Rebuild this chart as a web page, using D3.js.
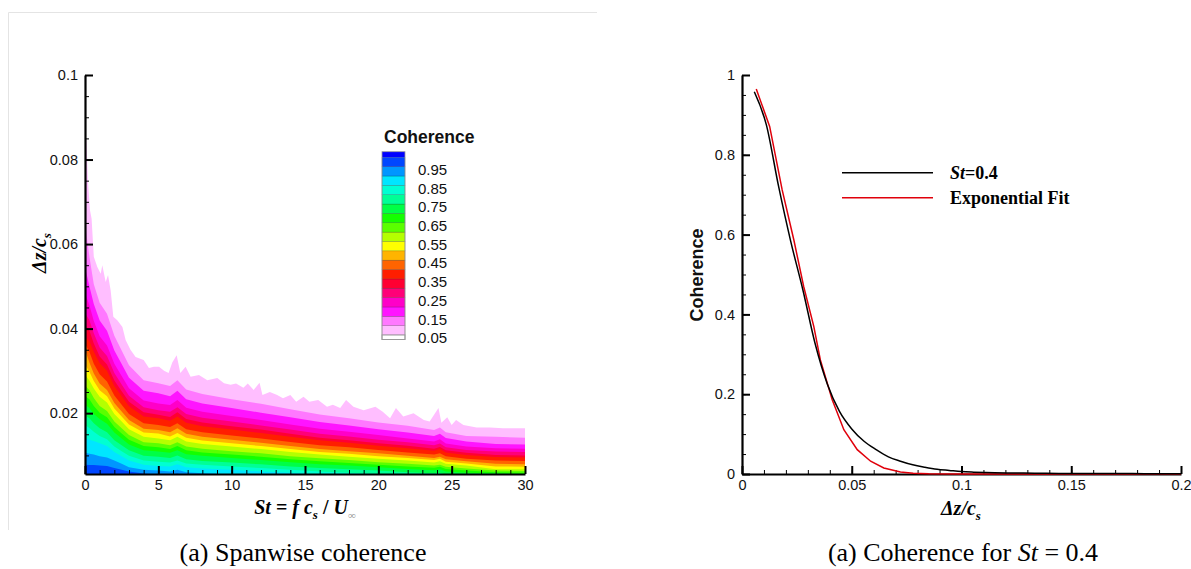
<!DOCTYPE html>
<html>
<head>
<meta charset="utf-8">
<script src="https://cdn.jsdelivr.net/npm/d3@7"></script>
<style>
body { margin: 0; background: #fff; }
svg text { font-family: "Liberation Sans", Arial, sans-serif; }
.serif { font-family: "Liberation Serif", "Times New Roman", serif !important; }
</style>
</head>
<body>
<svg id="chart" width="1191" height="569"></svg>
<script>
// ---- contour levels and colours (coherence) ----
var levels = [0.05, 0.10, 0.15, 0.20, 0.25, 0.30, 0.35, 0.40, 0.45, 0.50,
              0.55, 0.60, 0.65, 0.70, 0.75, 0.80, 0.85, 0.90, 0.95, 1.00];
// colour of the band just above each level (0.05-0.10 ... 0.95-1.0)
var bandColors = ["#ffbeff", "#ff78ff", "#ff14ff", "#ff00c8", "#ff0078", "#ff0032",
                  "#ff1e00", "#ff6400", "#ffb400", "#ffff00", "#b4ff00", "#5aff00",
                  "#14ff00", "#00ff46", "#00ff96", "#00ffd2", "#00e6ff", "#0096ff", "#0046ff"];
var capColor = "#0000ff";
var legendLabels = [0.05, 0.15, 0.25, 0.35, 0.45, 0.55, 0.65, 0.75, 0.85, 0.95];

// ---- outer contour (coherence = 0.05), Δz/c_s vs St ----
var outerSt = [0, 0.1, 0.2, 0.34, 0.45, 0.6, 0.84, 1.07, 1.18, 1.41, 1.57, 1.75, 1.93, 2.2, 2.55,
               2.77, 3.1, 3.45, 4.0, 4.36, 4.7, 5.05, 5.39, 5.7, 5.95, 6.25, 6.5, 6.86, 7.2, 7.77,
               8.34, 9.02, 9.48, 9.93, 10.3, 10.8, 11.1, 11.5, 11.9, 12.1, 12.6, 13.1, 13.5, 14.0,
               14.4, 14.9, 15.3, 15.9, 16.5, 16.9, 17.4, 17.8, 18.3, 19.0, 19.8, 20.3, 20.8, 21.2,
               21.7, 22.4, 23.1, 23.5, 24.1, 24.3, 24.7, 25.0, 25.3, 25.8, 26.7, 27.6, 28.5, 29.4, 30];
var outerDz = [0.087, 0.084, 0.075, 0.068, 0.066, 0.057, 0.0546, 0.053, 0.055, 0.051, 0.0527, 0.049, 0.0428, 0.042, 0.0404,
               0.0373, 0.035, 0.0333, 0.0326, 0.0307, 0.031, 0.031, 0.030, 0.0295, 0.032, 0.0337, 0.0295, 0.031, 0.0286, 0.029,
               0.0278, 0.0283, 0.0271, 0.0267, 0.027, 0.026, 0.027, 0.0255, 0.0272, 0.0243, 0.025, 0.0243, 0.0235, 0.0243,
               0.0227, 0.0239, 0.0227, 0.0231, 0.0215, 0.022, 0.0212, 0.0231, 0.0215, 0.0207, 0.0215, 0.0203, 0.0188, 0.0212,
               0.0192, 0.020, 0.0184, 0.018, 0.0212, 0.0177, 0.019, 0.0172, 0.0184, 0.0172, 0.0166, 0.0166, 0.0164, 0.0164, 0.0164];

// ---- inner contours: one row per St column, levels 0.10 ... 0.95 ----
var innerSt = [0, 0.3, 0.6, 1, 1.5, 2, 2.5, 3, 4, 5, 5.8, 6.3, 6.9, 8, 10, 12, 14, 16, 18, 20, 22, 23.8, 24.2, 24.6, 26, 28, 30];
var innerDz = [
  [0.065, 0.0546, 0.0484, 0.0437, 0.041, 0.038, 0.0365, 0.035, 0.0315, 0.029, 0.0265, 0.024, 0.022, 0.0195, 0.0172, 0.0140, 0.0106, 0.0078],
  [0.057, 0.050, 0.0455, 0.042, 0.0395, 0.037, 0.0345, 0.032, 0.0298, 0.0277, 0.0255, 0.0233, 0.0212, 0.0188, 0.0165, 0.0137, 0.0104, 0.0077],
  [0.0505, 0.0458, 0.0418, 0.0389, 0.0365, 0.0345, 0.0317, 0.0294, 0.0276, 0.0258, 0.0236, 0.0217, 0.0198, 0.0176, 0.0156, 0.0134, 0.0102, 0.0077],
  [0.0461, 0.0419, 0.0382, 0.0355, 0.0334, 0.0318, 0.0292, 0.0270, 0.0254, 0.0239, 0.0217, 0.0201, 0.0186, 0.0164, 0.0146, 0.0129, 0.0098, 0.0076],
  [0.0435, 0.0395, 0.0360, 0.0335, 0.0315, 0.0300, 0.0275, 0.0255, 0.0240, 0.0225, 0.0205, 0.0190, 0.0175, 0.0155, 0.0138, 0.0122, 0.0095, 0.0075],
  [0.0383, 0.0348, 0.0317, 0.0295, 0.0277, 0.0264, 0.0242, 0.0224, 0.0211, 0.0198, 0.0180, 0.0167, 0.0154, 0.0136, 0.0121, 0.0108, 0.0088, 0.0070],
  [0.0348, 0.0316, 0.0288, 0.0268, 0.0252, 0.0240, 0.0220, 0.0204, 0.0192, 0.0180, 0.0164, 0.0152, 0.0140, 0.0124, 0.0110, 0.0098, 0.0080, 0.0066],
  [0.0313, 0.0284, 0.0259, 0.0241, 0.0227, 0.0216, 0.0198, 0.0184, 0.0173, 0.0162, 0.0148, 0.0137, 0.0126, 0.0112, 0.0099, 0.0088, 0.0072, 0.0062],
  [0.0278, 0.0253, 0.0230, 0.0214, 0.0202, 0.0192, 0.0176, 0.0163, 0.0154, 0.0144, 0.0131, 0.0122, 0.0112, 0.0099, 0.0088, 0.0078, 0.0066, 0.0057],
  [0.0271, 0.0247, 0.0223, 0.0207, 0.0196, 0.0188, 0.0172, 0.0160, 0.0152, 0.0140, 0.0129, 0.0119, 0.0109, 0.0097, 0.0085, 0.0075, 0.0064, 0.0055],
  [0.0264, 0.0240, 0.0219, 0.0203, 0.0191, 0.0182, 0.0167, 0.0155, 0.0145, 0.0136, 0.0124, 0.0115, 0.0106, 0.0094, 0.0083, 0.0074, 0.0062, 0.0054],
  [0.0278, 0.0253, 0.0231, 0.0214, 0.0202, 0.0192, 0.0176, 0.0164, 0.0153, 0.0144, 0.0131, 0.0122, 0.0112, 0.0100, 0.0088, 0.0079, 0.0066, 0.0057],
  [0.0256, 0.0233, 0.0213, 0.0198, 0.0186, 0.0177, 0.0162, 0.0151, 0.0142, 0.0133, 0.0121, 0.0112, 0.0103, 0.0091, 0.0081, 0.0072, 0.0060, 0.0052],
  [0.0245, 0.0223, 0.0203, 0.0189, 0.0178, 0.0169, 0.0155, 0.0144, 0.0135, 0.0127, 0.0116, 0.0107, 0.0099, 0.0087, 0.0078, 0.0069, 0.0058, 0.0050],
  [0.0233, 0.0212, 0.0193, 0.0180, 0.0169, 0.0161, 0.0147, 0.0137, 0.0129, 0.0121, 0.0110, 0.0102, 0.0094, 0.0083, 0.0074, 0.0066, 0.0055, 0.0048],
  [0.0222, 0.0201, 0.0184, 0.0171, 0.0161, 0.0153, 0.0140, 0.0130, 0.0122, 0.0115, 0.0105, 0.0097, 0.0089, 0.0079, 0.0070, 0.0062, 0.0052, 0.0046],
  [0.0209, 0.0190, 0.0173, 0.0161, 0.0151, 0.0144, 0.0132, 0.0122, 0.0115, 0.0108, 0.0098, 0.0091, 0.0084, 0.0074, 0.0066, 0.0059, 0.0050, 0.0044],
  [0.0197, 0.0179, 0.0163, 0.0151, 0.0142, 0.0136, 0.0124, 0.0115, 0.0108, 0.0102, 0.0093, 0.0086, 0.0079, 0.0070, 0.0062, 0.0055, 0.0047, 0.0041],
  [0.0188, 0.0171, 0.0156, 0.0145, 0.0136, 0.0130, 0.0119, 0.0110, 0.0104, 0.0097, 0.0089, 0.0082, 0.0076, 0.0067, 0.0059, 0.0053, 0.0045, 0.0040],
  [0.0178, 0.0162, 0.0148, 0.0137, 0.0129, 0.0123, 0.0113, 0.0105, 0.0098, 0.0092, 0.0084, 0.0078, 0.0072, 0.0064, 0.0056, 0.0050, 0.0043, 0.0038],
  [0.0170, 0.0154, 0.0140, 0.0131, 0.0123, 0.0117, 0.0107, 0.0099, 0.0094, 0.0088, 0.0080, 0.0074, 0.0068, 0.0060, 0.0054, 0.0048, 0.0041, 0.0036],
  [0.0160, 0.0146, 0.0133, 0.0124, 0.0116, 0.0111, 0.0102, 0.0094, 0.0089, 0.0083, 0.0076, 0.0071, 0.0065, 0.0058, 0.0051, 0.0046, 0.0040, 0.0035],
  [0.0166, 0.0151, 0.0138, 0.0128, 0.0120, 0.0115, 0.0105, 0.0097, 0.0092, 0.0086, 0.0078, 0.0073, 0.0067, 0.0059, 0.0052, 0.0047, 0.0041, 0.0035],
  [0.0155, 0.0141, 0.0128, 0.0119, 0.0112, 0.0107, 0.0098, 0.0091, 0.0085, 0.0080, 0.0073, 0.0068, 0.0062, 0.0055, 0.0049, 0.0044, 0.0038, 0.0033],
  [0.0146, 0.0133, 0.0121, 0.0113, 0.0106, 0.0101, 0.0092, 0.0086, 0.0081, 0.0076, 0.0069, 0.0064, 0.0059, 0.0052, 0.0046, 0.0041, 0.0035, 0.0030],
  [0.0144, 0.0127, 0.0117, 0.0109, 0.0101, 0.0096, 0.0088, 0.0080, 0.0074, 0.0067, 0.0064, 0.0060, 0.0057, 0.0051, 0.0045, 0.0040, 0.0034, 0.0029],
  [0.0142, 0.0126, 0.0116, 0.0108, 0.0100, 0.0095, 0.0087, 0.0079, 0.0073, 0.0067, 0.0063, 0.0059, 0.0056, 0.0050, 0.0044, 0.0039, 0.0033, 0.0028]
];

// ---- right panel: coherence at St = 0.4 ----
var dzData = [0.0056, 0.0111, 0.0167, 0.0222, 0.0278, 0.0333, 0.0389, 0.0444, 0.05, 0.0556, 0.0611, 0.0667,
              0.0722, 0.0778, 0.0833, 0.0889, 0.0944, 0.1, 0.1056, 0.1111, 0.1222, 0.1333, 0.1444, 0.1556,
              0.1667, 0.1778, 0.1889, 0.2];
var cohData = [0.958, 0.875, 0.72, 0.583, 0.46, 0.327, 0.225, 0.157, 0.113, 0.082, 0.061, 0.043,
               0.032, 0.023, 0.017, 0.012, 0.009, 0.006, 0.0045, 0.0035, 0.0025, 0.002, 0.0015, 0.0012,
               0.001, 0.001, 0.0008, 0.0008];
var dzFit = [0.0065, 0.0126, 0.0183, 0.0236, 0.0281, 0.0327, 0.0357, 0.0411, 0.0464, 0.0525, 0.0586,
             0.0646, 0.0722, 0.078, 0.085, 0.1, 0.15, 0.2];
var cohFit = [0.965, 0.871, 0.712, 0.587, 0.47, 0.37, 0.286, 0.186, 0.111, 0.061, 0.032,
              0.015, 0.005, 0.002, 0.0005, 0, 0, 0];

var svg = d3.select("#chart");

// faint page frame around the left figure
svg.append("path").attr("d", "M8.5,530V12.5H597").attr("fill", "none").attr("stroke", "#e4e4e4");

// axis helper: inward ticks, major + minor
function drawAxes(g, x, y, xMajor, xMinor, yMajor, yMinor, xFmt, yFmt) {
  var yb = y.range()[0], xl = x.range()[0];
  g.append("g").attr("transform", "translate(0," + yb + ")")
    .call(d3.axisBottom(x).tickValues(xMinor).tickSize(-4).tickSizeOuter(0).tickFormat(""))
    .call(s => s.select(".domain").remove())
    .selectAll("line").attr("stroke-width", 1);
  g.append("g").attr("transform", "translate(" + xl + ",0)")
    .call(d3.axisLeft(y).tickValues(yMinor).tickSize(-4).tickSizeOuter(0).tickFormat(""))
    .call(s => s.select(".domain").remove())
    .selectAll("line").attr("stroke-width", 1);
  var gx = g.append("g").attr("transform", "translate(0," + yb + ")")
    .call(d3.axisBottom(x).tickValues(xMajor).tickSize(-8).tickSizeOuter(0).tickPadding(6).tickFormat(xFmt));
  var gy = g.append("g").attr("transform", "translate(" + xl + ",0)")
    .call(d3.axisLeft(y).tickValues(yMajor).tickSize(-8).tickSizeOuter(0).tickPadding(7).tickFormat(yFmt));
  [gx, gy].forEach(function (a) {
    a.select(".domain").attr("stroke-width", 2.2);
    a.selectAll(".tick line").attr("stroke-width", 2);
    a.selectAll("text").attr("font-size", 14.5).attr("fill", "#111")
      .style("font-family", "'Liberation Sans', Arial, sans-serif");
  });
}

// ================= left panel: contour =================
var xL = d3.scaleLinear().domain([0, 30]).range([85, 525]);
var yL = d3.scaleLinear().domain([0.0056, 0.1]).range([474, 75]);

svg.append("clipPath").attr("id", "clipL").append("rect")
  .attr("x", 85).attr("y", 75).attr("width", 440).attr("height", 399);

var series = [outerSt.map(function (s, i) { return [s, outerDz[i]]; })];
for (var j = 0; j < 18; j++) {
  series.push(innerSt.map(function (s, i) { return [s, innerDz[i][j]]; }));
}
var area = d3.area().x(function (d) { return xL(d[0]); }).y0(474).y1(function (d) { return yL(d[1]); });

svg.append("g").attr("clip-path", "url(#clipL)")
  .selectAll("path").data(series).enter().append("path")
  .attr("d", area)
  .attr("fill", function (d, i) { return bandColors[i]; });

drawAxes(svg.append("g"), xL, yL,
  d3.range(0, 31, 5), d3.range(0, 31, 1),
  [0.02, 0.04, 0.06, 0.08, 0.1], [0.01, 0.015, 0.025, 0.03, 0.035, 0.045, 0.05, 0.055, 0.065, 0.07, 0.075, 0.085, 0.09, 0.095],
  d3.format("d"), d3.format(".2~f"));

// axis titles
var tx = svg.append("text").attr("class", "serif").attr("x", 305).attr("y", 514)
  .attr("text-anchor", "middle").attr("font-size", 20).attr("font-weight", "bold");
tx.append("tspan").attr("font-style", "italic").text("St");
tx.append("tspan").text(" = ");
tx.append("tspan").attr("font-style", "italic").text("f c");
tx.append("tspan").attr("font-style", "italic").attr("font-size", 13).attr("dy", 5).text("s");
tx.append("tspan").attr("dy", -5).text(" / ");
tx.append("tspan").attr("font-style", "italic").text("U");
tx.append("tspan").attr("font-size", 11).attr("font-weight", "normal").attr("fill", "#999").attr("dy", 5).text("∞");

var ty = svg.append("text").attr("class", "serif").attr("transform", "translate(46,253) rotate(-90)")
  .attr("text-anchor", "middle").attr("font-size", 20).attr("font-weight", "bold");
ty.append("tspan").attr("font-style", "italic").text("Δz/c");
ty.append("tspan").attr("font-style", "italic").attr("font-size", 13).attr("dy", 5).text("s");

// colour legend
var legY = d3.scaleLinear().domain([0.05, 1.0]).range([335, 157.3]);
var leg = svg.append("g");
leg.append("text").attr("x", 384).attr("y", 143).attr("font-size", 17.5).attr("font-weight", "bold")
  .attr("fill", "#111").text("Coherence");
leg.append("rect").attr("x", 382).attr("y", 151.7).attr("width", 23).attr("height", legY(1.0) - 151.7)
  .attr("fill", capColor);
leg.selectAll("rect.band").data(bandColors).enter().append("rect").attr("class", "band")
  .attr("x", 382).attr("width", 23)
  .attr("y", function (d, i) { return legY(levels[i + 1]); })
  .attr("height", function (d, i) { return legY(levels[i]) - legY(levels[i + 1]); })
  .attr("fill", function (d) { return d; })
  .attr("stroke", "rgba(0,0,0,0.35)").attr("stroke-width", 0.5);
leg.append("rect").attr("x", 382).attr("y", legY(0.05)).attr("width", 23).attr("height", 4.5)
  .attr("fill", "#fff").attr("stroke", "#999").attr("stroke-width", 1);
leg.append("rect").attr("x", 382).attr("y", 151.7).attr("width", 23).attr("height", legY(0.05) + 4.5 - 151.7)
  .attr("fill", "none").attr("stroke", "#999").attr("stroke-width", 0.8);
leg.selectAll("text.lab").data(legendLabels).enter().append("text").attr("class", "lab")
  .attr("x", 418).attr("y", function (d) { return legY(d) + 3; }).attr("dy", "0.35em")
  .attr("font-size", 15).attr("fill", "#111")
  .text(function (d) { return d3.format(".2f")(d); });

// ================= right panel: coherence curve =================
var xR = d3.scaleLinear().domain([0, 0.2]).range([742, 1181]);
var yR = d3.scaleLinear().domain([0, 1]).range([474, 75]);

drawAxes(svg.append("g"), xR, yR,
  [0, 0.05, 0.1, 0.15, 0.2], d3.range(0, 0.2001, 0.01),
  [0, 0.2, 0.4, 0.6, 0.8, 1], d3.range(0, 1.001, 0.05),
  d3.format("~g"), d3.format("~g"));

var lineR = d3.line().x(function (d) { return xR(d[0]); }).y(function (d) { return yR(d[1]); });
svg.append("path").datum(dzFit.map(function (d, i) { return [d, cohFit[i]]; }))
  .attr("d", lineR).attr("fill", "none").attr("stroke", "#e0000b").attr("stroke-width", 1.5);
svg.append("path").datum(dzData.map(function (d, i) { return [d, cohData[i]]; }))
  .attr("d", lineR.curve(d3.curveMonotoneX)).attr("fill", "none").attr("stroke", "#000").attr("stroke-width", 1.5);

// legend
svg.append("line").attr("x1", 842).attr("x2", 933).attr("y1", 172.7).attr("y2", 172.7)
  .attr("stroke", "#000").attr("stroke-width", 1.5);
svg.append("line").attr("x1", 842).attr("x2", 933).attr("y1", 197.7).attr("y2", 197.7)
  .attr("stroke", "#e0000b").attr("stroke-width", 1.5);
var l1 = svg.append("text").attr("class", "serif").attr("x", 950).attr("y", 179)
  .attr("font-size", 18).attr("font-weight", "bold");
l1.append("tspan").attr("font-style", "italic").text("St");
l1.append("tspan").text("=0.4");
svg.append("text").attr("class", "serif").attr("x", 950).attr("y", 204)
  .attr("font-size", 18).attr("font-weight", "bold").text("Exponential Fit");

// axis titles
svg.append("text").attr("transform", "translate(703,275) rotate(-90)").attr("text-anchor", "middle")
  .attr("font-size", 18).attr("font-weight", "bold").attr("fill", "#111").text("Coherence");
var tx2 = svg.append("text").attr("class", "serif").attr("x", 961).attr("y", 515)
  .attr("text-anchor", "middle").attr("font-size", 20).attr("font-weight", "bold");
tx2.append("tspan").attr("font-style", "italic").text("Δz/c");
tx2.append("tspan").attr("font-style", "italic").attr("font-size", 13).attr("dy", 5).text("s");

// ================= captions =================
svg.append("text").attr("class", "serif").attr("x", 303).attr("y", 561).attr("text-anchor", "middle")
  .attr("font-size", 26).text("(a) Spanwise coherence");
var cap2 = svg.append("text").attr("class", "serif").attr("x", 963).attr("y", 561).attr("text-anchor", "middle")
  .attr("font-size", 26);
cap2.append("tspan").text("(a) Coherence for ");
cap2.append("tspan").attr("font-style", "italic").text("St");
cap2.append("tspan").text(" = 0.4");
</script>
</body>
</html>
